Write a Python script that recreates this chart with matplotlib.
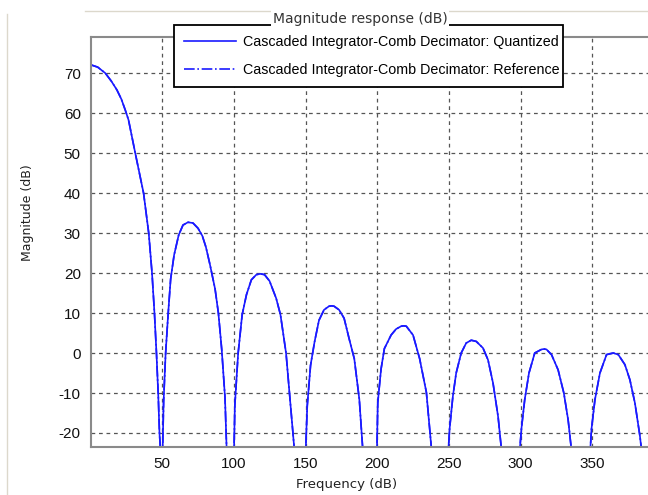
import matplotlib
matplotlib.use("Agg")
import matplotlib.pyplot as plt
from matplotlib.lines import Line2D

plt.rcParams['font.family'] = ['DejaVu Sans']
plt.rcParams['axes.unicode_minus'] = False

# magnitude response (nulls drop below the axis)
freq = [0.0, 5.0, 10.3, 14.5, 18.4, 21.5, 24.2, 26.5, 31.2, 37.0, 40.6, 42.9, 44.6, 46.0, 47.2, 48.1, 48.8, 49.5,
        50.3, 51.0, 52.4, 54.2, 55.9, 58.3, 61.5, 64.5, 68.0, 71.5, 75.0, 78.0, 80.5, 83.4, 86.9,
        89.2, 91.5, 93.8, 95.0, 97.5,
        100.1, 100.7, 103.0, 105.8, 108.8, 112.2, 115.7, 118.5, 121.4, 124.9, 129.5, 132.5, 136.4,
        138.7, 142.3, 146.0,
        150.1, 151.2, 153.5, 156.3, 159.4, 162.9, 166.4, 168.2, 169.9, 173.4, 176.9, 180.4, 184.0,
        187.5, 190.0, 195.0,
        199.8, 200.4, 202.7, 205.0, 209.7, 213.2, 216.7, 218.5, 220.3, 225.0, 229.6, 234.3, 238.0, 244.0,
        249.6, 250.5, 252.8, 255.1, 258.6, 262.1, 265.6, 269.1, 273.8, 277.3, 280.8, 284.3, 286.8, 293.0,
        299.4, 300.6, 302.9, 305.9, 309.9, 314.6, 316.5, 318.1, 321.6, 326.2, 330.2, 333.2, 335.6, 342.0,
        348.6, 349.5, 351.9, 355.4, 360.0, 364.7, 368.2, 372.8, 376.3, 379.8, 383.3, 384.5, 387.0]
mag_db = [72.1, 71.5, 70.0, 68.0, 65.8, 63.5, 60.8, 58.3, 50.0, 40.0, 30.0, 20.0, 10.0, 0.0, -10.0, -20.0, -24.5, -45.0,
          -24.5, -12.0, 0.0, 10.0, 18.5, 24.5, 29.5, 32.0, 32.7, 32.5, 31.2, 29.3, 26.5, 22.0, 16.0,
          10.0, 1.0, -11.0, -24.5, -45.0,
          -24.5, -13.0, 0.0, 9.6, 14.6, 18.3, 19.6, 19.8, 19.6, 18.0, 13.7, 9.6, 0.0,
          -9.6, -24.5, -45.0,
          -24.5, -13.2, -3.1, 2.8, 8.2, 10.8, 11.7, 11.8, 11.7, 10.8, 8.7, 3.6, -1.4,
          -11.5, -24.5, -45.0,
          -24.5, -12.4, -4.0, 1.1, 4.5, 6.0, 6.7, 6.8, 6.7, 4.5, -1.4, -9.8, -24.5, -45.0,
          -24.5, -19.0, -10.8, -5.0, 0.0, 2.5, 3.2, 2.9, 1.25, -1.7, -7.5, -15.8, -24.5, -45.0,
          -24.5, -19.0, -11.7, -5.0, 0.0, 0.9, 1.0, 0.9, -0.4, -4.2, -10.0, -16.7, -24.5, -45.0,
          -24.5, -19.0, -11.7, -5.0, -0.4, 0.0, -0.4, -2.9, -6.7, -12.5, -20.8, -24.5, -45.0]

x_ticks = [50, 100, 150, 200, 250, 300, 350]
y_ticks = [-20, -10, 0, 10, 20, 30, 40, 50, 60, 70]
legend_labels = ["Cascaded Integrator-Comb Decimator: Quantized",
                 "Cascaded Integrator-Comb Decimator: Reference"]

narrow = ['Liberation Sans', 'DejaVu Sans']

fig = plt.figure(figsize=(6.48, 4.95), dpi=100)
# axes run past the right edge of the picture, as in the reference crop
ax = fig.add_axes([0.1397, 0.097, 0.8848, 0.828])

ax.plot(freq, mag_db, color='#1a1aff', lw=1.2, label=legend_labels[0])
ax.plot(freq, mag_db, color='#1a1aff', lw=1.2, ls='-.', label=legend_labels[1])

ax.set_xlim(0, 400)
ax.set_ylim(-23.5, 79)
ax.set_xticks(x_ticks)
ax.set_yticks(y_ticks)
ax.grid(True, color='#555555', ls=(0, (3, 3)), lw=0.9)
ax.tick_params(length=0, pad=7, labelsize=11, colors='#111111')
for lab in ax.get_xticklabels() + ax.get_yticklabels():
    lab.set_family(narrow)
for sp in ax.spines.values():
    sp.set_color('#8a8a8a')
    sp.set_linewidth(1.5)

ax.set_xlabel('Frequency (dB)', fontsize=9.5, color='#222222')
ax.xaxis.set_label_coords((347 - 90.5) / 573.3, -0.075)
ax.set_ylabel('Magnitude (dB)', fontsize=9, color='#222222')
ax.yaxis.set_label_coords(-0.098, (447 - 213) / 410)

leg = ax.legend(loc='upper left', bbox_to_anchor=(174 / 648, 1 - 90 / 495, 389 / 648, 65 / 495),
                bbox_transform=fig.transFigure, mode='expand', borderaxespad=0,
                prop={'family': narrow, 'size': 10.3}, handlelength=3.6, handletextpad=0.5,
                labelspacing=0.95, borderpad=0.7, fancybox=False, framealpha=1)
leg.get_frame().set_edgecolor('black')
leg.get_frame().set_linewidth(1.3)

fig.text(360 / 648, 1 - 19 / 495, 'Magnitude response (dB)', ha='center', va='center',
         fontsize=10, color='#333333', zorder=10,
         bbox=dict(facecolor='white', edgecolor='none', pad=1.5))

# faint panel border
fig.add_artist(Line2D([7 / 648, 7 / 648], [0, 1 - 14 / 495], transform=fig.transFigure,
                      color='#dcd8cc', lw=1))
fig.add_artist(Line2D([85 / 648, 1], [1 - 11 / 495, 1 - 11 / 495], transform=fig.transFigure,
                      color='#dcd8cc', lw=1))

fig.savefig('out.png', dpi=100)
